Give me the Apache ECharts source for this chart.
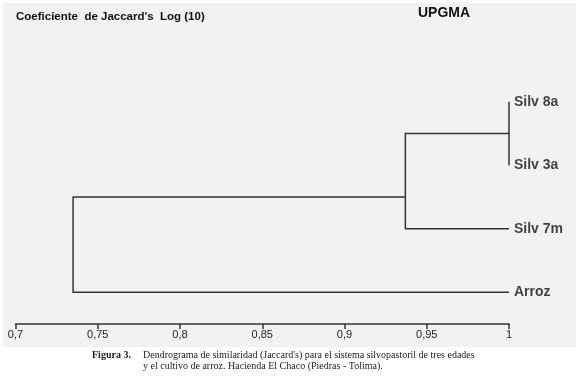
<!DOCTYPE html>
<html>
<head>
<meta charset="utf-8">
<script src="https://cdn.jsdelivr.net/npm/echarts@6/dist/echarts.min.js"></script>
<style>
  html, body { margin: 0; padding: 0; background: #fff; }
  #main { width: 576px; height: 377px; }
</style>
</head>
<body>
<div id="main"></div>
<script>
// leaves, top to bottom
const leaves = ['Silv 8a', 'Silv 3a', 'Silv 7m', 'Arroz'];
const leafPos = [0, 1, 2, 3];
// merges: [childA, childB, similarity]; ids 0..3 are leaves, 4.. are merge nodes
const merges = [
  [0, 1, 1.0],
  [4, 2, 0.937],
  [5, 3, 0.735]
];
// vertical position of each merge node
const nodePos = [0.5, 1.5, 2.25];
const xTicks = [0.7, 0.75, 0.8, 0.85, 0.9, 0.95, 1];

window.onload = function () {
  const dom = document.getElementById('main');
  const myChart = echarts.init(dom);

  // position of every node: [similarity, y]
  const nodes = leafPos.map(function (p) { return [1, p]; });
  const segs = [];
  merges.forEach(function (m, i) {
    const a = nodes[m[0]];
    const b = nodes[m[1]];
    const lvl = m[2];
    segs.push({ coords: [[a[0], a[1]], [lvl, a[1]], [lvl, b[1]], [b[0], b[1]]] });
    nodes.push([lvl, nodePos[i]]);
  });

  const leafLabels = leaves.map(function (name, i) {
    return { value: [1, leafPos[i]], name: name };
  });

  const option = {
    animation: false,
    backgroundColor: '#fff',
    graphic: [
      { type: 'rect', left: 3, top: 3, shape: { width: 573, height: 344 }, style: { fill: '#f2f2f2' }, z: -10 },
      { type: 'text', left: 16, top: 11, style: { text: "Coeficiente  de Jaccard's  Log (10)", font: 'bold 11.5px "Liberation Sans", Arial', fill: '#111' } },
      { type: 'text', left: 418, top: 6, style: { text: 'UPGMA', font: 'bold 14px "Liberation Sans", Arial', fill: '#111' } },
      { type: 'text', left: 92, top: 350, style: { text: 'Figura 3.', font: 'bold 10px "Liberation Serif", serif', fill: '#222' } },
      { type: 'text', left: 143, top: 350, style: { text: "Dendrograma de similaridad (Jaccard's) para el sistema silvopastoril de tres edades", font: '10px "Liberation Serif", serif', fill: '#222' } },
      { type: 'text', left: 143, top: 361, style: { text: 'y el cultivo de arroz. Hacienda El Chaco (Piedras - Tolima).', font: '10px "Liberation Serif", serif', fill: '#222' } }
    ],
    grid: { left: 15.5, right: 67, top: 70, height: 254 },
    xAxis: {
      type: 'value',
      min: xTicks[0],
      max: xTicks[xTicks.length - 1],
      interval: 0.05,
      splitLine: { show: false },
      axisLine: { onZero: false, lineStyle: { color: '#333', width: 1.5 } },
      axisTick: { length: 5, lineStyle: { color: '#333', width: 1.5 } },
      axisLabel: {
        margin: 5,
        color: '#222',
        fontSize: 11,
        fontFamily: '"Liberation Sans", Arial',
        formatter: function (v) { return String(+v.toFixed(2)).replace('.', ','); }
      }
    },
    yAxis: {
      type: 'value',
      inverse: true,
      min: -0.5,
      max: 3.5,
      show: false
    },
    series: [
      {
        type: 'lines',
        coordinateSystem: 'cartesian2d',
        polyline: true,
        lineStyle: { color: '#333', width: 1.5, opacity: 1 },
        data: segs
      },
      {
        type: 'scatter',
        symbolSize: 0,
        data: leafLabels,
        label: {
          show: true,
          position: 'right',
          distance: 5,
          formatter: '{b}',
          color: '#111',
          fontSize: 14,
          fontWeight: 'bold',
          fontFamily: '"Liberation Sans", Arial'
        }
      }
    ]
  };
  myChart.setOption(option, true);
};
</script>
</body>
</html>
